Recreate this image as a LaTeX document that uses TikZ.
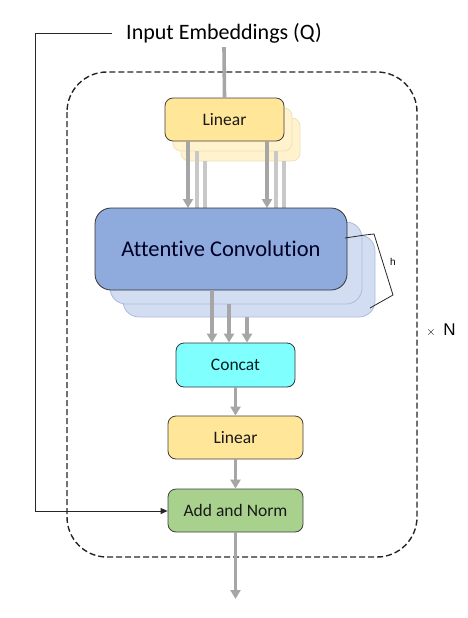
\documentclass[tikz,border=0pt]{standalone}
\usepackage{fontspec}
\setmainfont[Ligatures={NoCommon}]{Carlito}
\newfontfamily\arialf{Liberation Sans}
\usetikzlibrary{arrows.meta}
\definecolor{linfill}{HTML}{FFE699}
\definecolor{linshadow}{HTML}{FFF2CC}
\definecolor{linshadowdraw}{HTML}{F0E2B8}
\definecolor{acfill}{HTML}{8FAADC}
\definecolor{acshadow}{HTML}{D3DDF1}
\definecolor{acshadowdraw}{HTML}{A9BCE0}
\definecolor{catfill}{HTML}{80FFFF}
\definecolor{addfill}{HTML}{A9D18E}
\definecolor{garr}{HTML}{A6A6A6}
\definecolor{garrl}{HTML}{C8C8C8}
\tikzset{
  box/.style={draw=black!75, line width=0.8pt, rounded corners=8pt, inner sep=0pt, text=black!90, font=\fontsize{17.5}{20}\selectfont},
  linbox/.style={box, fill=linfill, minimum width=119pt, minimum height=43pt},
  linshadowbox/.style={draw=linshadowdraw, fill=linshadow, line width=0.8pt, rounded corners=8pt, minimum width=119pt, minimum height=43pt, inner sep=0pt},
  acbox/.style={box, fill=acfill, draw=black!80, rounded corners=16pt, minimum width=252pt, minimum height=82pt, font=\fontsize{22.5}{26}\selectfont, text=black!85!blue},
  acshadowbox/.style={draw=acshadowdraw, fill=acshadow, line width=0.8pt, rounded corners=16pt, minimum width=252pt, minimum height=82pt, inner sep=0pt},
  garrow/.style={draw=garr, line width=3.6pt, -{Triangle[length=9pt,width=10pt]}},
  gline/.style={draw=garrl, line width=3.6pt},
}
\begin{document}
\begin{tikzpicture}[x=1pt,y=-1pt]
\useasboundingbox (0,0) rectangle (467,618);
% dashed container
\draw[black!85, line width=1.4pt, dash pattern=on 6pt off 3pt, rounded corners=40pt] (67,72) rectangle (417,557);
\node[font=\arialf\fontsize{17}{20}\selectfont] (xn) at (441,330) {{\fontsize{12}{12}\selectfont$\times$}\, N};

% input text
\node[font=\fontsize{22}{26}\selectfont, inner sep=0pt] (inp) at (224,33) {Input Embeddings (Q)};

% top linear with shadows
\node[linshadowbox] (lins2) at (240.5,139.5) {};
\node[linshadowbox] (lins1) at (232.5,129.5) {};
\node[linbox] (lin) at (224.5,119.5) {Linear};

% input arrow into linear
\draw[draw=garr, line width=3.6pt] (inp.south) ++(0,4) -- (lin.north);

\coordinate (acc) at (221,249);
% shadow arrows from linear to AC (behind AC)
\draw[gline] (197,151) -- (197,208);
\draw[gline] (205,161) -- (205,208);
\draw[gline] (276,151) -- (276,208);
\draw[gline] (284,161) -- (284,208);
\draw[garrow] (lin.south -| 188,0) -- (188,208);
\draw[garrow] (lin.south -| 267,0) -- (267,208);

% AC shadows and main
\node[acshadowbox] (acs2) at (249,276) {};
\node[acshadowbox] (acs1) at (236,263) {};
\node[acbox] (ac) at (acc) {Attentive Convolution};

% brace
\draw[black!85, line width=0.8pt] (345,238) -- (365,235) -- (374,234) -- (393,295) -- (370,308);
\node[font=\arialf\fontsize{10}{12}\selectfont] (hl) at (393,262) {h};

% concat
\node[box, fill=catfill, draw=black!70!cyan!40!black, minimum width=119pt, minimum height=44pt, text=black!75!teal] (cat) at (235.5,365) {Concat};

\draw[garrow] (ac.south -| 212,0) -- (cat.north -| 212,0);
\draw[garrow] (acs1.south -| 229,0) -- (cat.north -| 229,0);
\draw[garrow] (acs2.south -| 247,0) -- (cat.north -| 247,0);

% linear 2
\node[linbox, minimum width=135pt] (lin2) at (235.5,437.5) {Linear};
\draw[garrow] (cat.south) -- (lin2.north);

% add and norm
\node[box, fill=addfill, minimum width=135pt, minimum height=43pt] (add) at (235.5,510.5) {Add and Norm};
\draw[garrow] (lin2.south) -- (add.north);

% output
\coordinate (out) at (235.5,599);
\draw[garrow] (add.south) -- (out);

% residual
\coordinate (r1) at (112,33);
\coordinate (r2) at (35,33);
\coordinate (r3) at (35,511);
\draw[black!85, line width=0.9pt, -{Triangle[length=7pt,width=6pt]}] (r1) -- (r2) -- (r3) -- (add.west |- r3);
\end{tikzpicture}
\end{document}
